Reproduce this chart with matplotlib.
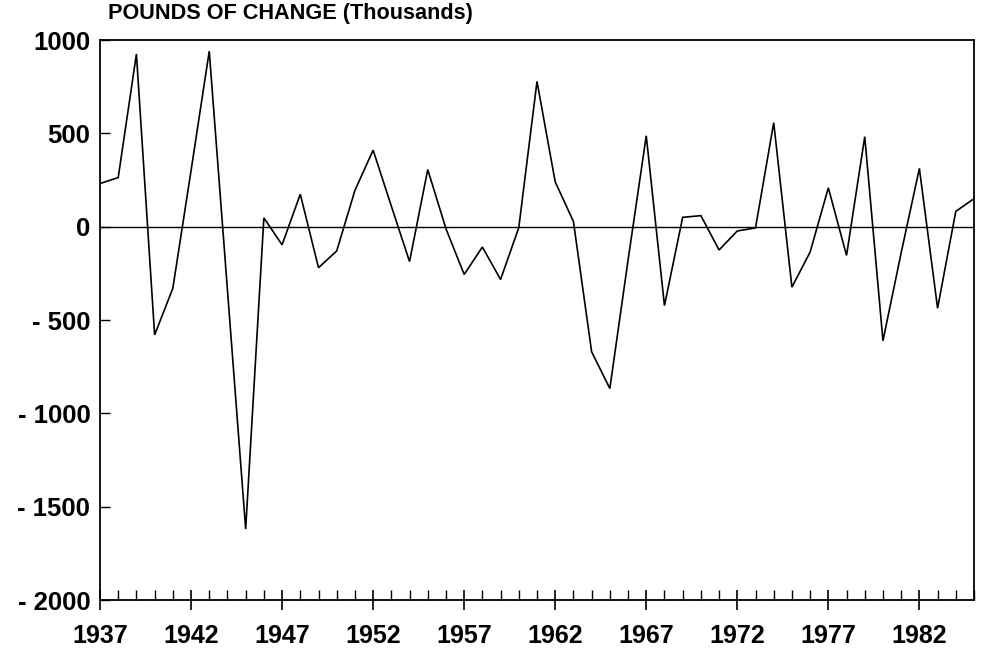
import matplotlib
matplotlib.use("Agg")
import matplotlib.pyplot as plt
from matplotlib.ticker import MultipleLocator

years = list(range(1937, 1986))
change = [231, 263, 925, -580, -330, 300, 940, -340, -1620, 47,
          -97, 174, -220, -130, 194, 410, 110, -187, 306, -11,
          -256, -109, -283, -5, 778, 240, 28, -670, -867, -180,
          487, -423, 50, 59, -125, -23, -7, 557, -324, -136,
          208, -154, 482, -611, -140, 312, -437, 82, 150]

ytick_vals = [1000, 500, 0, -500, -1000, -1500, -2000]
ytick_labels = ["1000", "500", "0", "- 500", "- 1000", "- 1500", "- 2000"]
xtick_vals = [1937, 1942, 1947, 1952, 1957, 1962, 1967, 1972, 1977, 1982]
title = "POUNDS OF CHANGE (Thousands)"

plt.rcParams['font.family'] = ['Liberation Sans', 'DejaVu Sans']

fig = plt.figure(figsize=(9.81, 6.56), dpi=100)
ax = fig.add_axes([100/981, 1-600/656, 874/981, 560/656])

ax.plot(years, change, color='black', lw=1.2, solid_joinstyle='miter')
ax.axhline(0, color='black', lw=1.0)

ax.set_xlim(1937, 1985)
ax.set_ylim(-2000, 1000)

ax.set_yticks(ytick_vals)
ax.set_yticklabels(ytick_labels, fontsize=18.5, fontweight='bold')
ax.set_xticks(xtick_vals)
ax.set_xticklabels([str(v) for v in xtick_vals], fontsize=18, fontweight='bold')
ax.xaxis.set_minor_locator(MultipleLocator(1))

ax.tick_params(axis='x', which='major', direction='inout', length=14, width=1.2, pad=10)
ax.tick_params(axis='x', which='minor', direction='in', length=7, width=1.0)
ax.tick_params(axis='y', which='major', direction='in', length=7, width=1.0, pad=7)

for s in ax.spines.values():
    s.set_linewidth(1.3)

fig.text(108/981, 1-14/656, title, fontsize=15.6, fontweight='bold', va='center', ha='left')

fig.savefig("out.png", dpi=100)
